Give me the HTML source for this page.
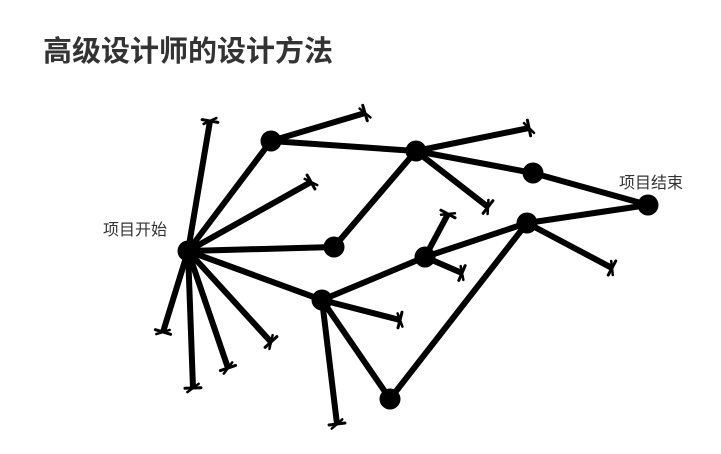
<!DOCTYPE html>
<html><head><meta charset="utf-8"><style>
html,body{margin:0;padding:0;background:#fff;width:721px;height:454px;overflow:hidden}
svg{position:absolute;left:0;top:0}
text{font-family:"Liberation Sans","Noto Sans CJK SC",sans-serif;fill:#333}
</style></head><body>
<svg id="s" width="721" height="454" viewBox="0 0 721 454">
<text x="43" y="61" font-size="29" font-weight="bold" fill="#333">高级设计师的设计方法</text>
<text x="103" y="235" font-size="16">项目开始</text>
<text x="619" y="188" font-size="16">项目结束</text>
<g id="g" stroke="#000" stroke-width="6" stroke-linecap="round" fill="none"></g>
<g id="n" fill="#000"></g>
</svg>
<script>
var N={S:[188,251],A:[271,141],B:[416,151],C:[334,247],D:[322,300],E:[425,257],F:[527,223],G:[533,173],T:[648,205],H:[390,399]};
var edges=[["S","A"],["A","B"],["B","G"],["G","T"],["S","C"],["C","B"],["S","D"],["D","E"],["E","F"],["F","T"],["D","H"],["H","F"]];
var leaves=[["A",[365,113]],["S",[210,121]],["S",[311,182]],["S",[163,332]],["S",[193,388]],["S",[228,368]],["S",[271,342]],["D",[400,320]],["D",[337,424]],["B",[529,128]],["B",[488,207]],["E",[448,214]],["E",[462,273]],["F",[612,268]]];
var g=document.getElementById('g'),n=document.getElementById('n'),ns="http://www.w3.org/2000/svg";
function line(a,b,w){var l=document.createElementNS(ns,'line');l.setAttribute('x1',a[0]);l.setAttribute('y1',a[1]);l.setAttribute('x2',b[0]);l.setAttribute('y2',b[1]);if(w)l.setAttribute('stroke-width',w);g.appendChild(l);}
edges.forEach(function(e){line(N[e[0]],N[e[1]]);});
leaves.forEach(function(L){var a=N[L[0]],b=L[1];var dx=b[0]-a[0],dy=b[1]-a[1],len=Math.hypot(dx,dy);var ux=dx/len,uy=dy/len;
var e=[b[0]-ux*2,b[1]-uy*2];line(a,e);
var px=-uy,py=ux;line([b[0]+px*8,b[1]+py*8],[b[0]-px*8,b[1]-py*8],3);
var c=Math.cos(0.6),s=Math.sin(0.6);var qx=px*c+ux*s,qy=py*c+uy*s;line([b[0]+qx*7,b[1]+qy*7],[b[0]-qx*7,b[1]-qy*7],2.5);});
Object.keys(N).forEach(function(k){var c=document.createElementNS(ns,'circle');c.setAttribute('cx',N[k][0]);c.setAttribute('cy',N[k][1]);c.setAttribute('r',10.5);n.appendChild(c);});
</script>
</body></html>
